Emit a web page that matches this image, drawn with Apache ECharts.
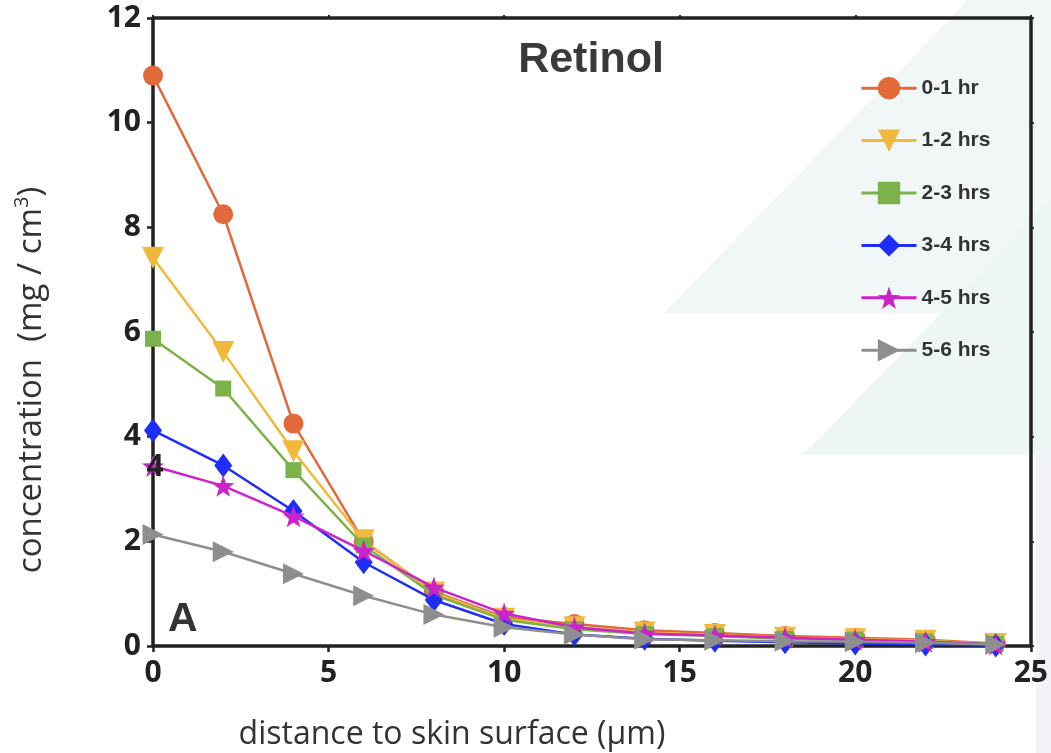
<!DOCTYPE html>
<html>
<head>
<meta charset="utf-8">
<script src="https://cdn.jsdelivr.net/npm/echarts@6/dist/echarts.min.js"></script>
<style>
html,body{margin:0;padding:0;background:#fff;}
#chart{width:1051px;height:753px;}
</style>
</head>
<body>
<div id="chart"></div>
<script>
// ---- data ----
const distances = [0, 2, 4, 6, 8, 10, 12, 14, 16, 18, 20, 22, 24];
const seriesNames = ['0-1 hr', '1-2 hrs', '2-3 hrs', '3-4 hrs', '4-5 hrs', '5-6 hrs'];
const hr0to1 = [10.9, 8.25, 4.25, 2.0, 1.04, 0.55, 0.42, 0.3, 0.25, 0.19, 0.16, 0.12, 0.05];
const hr1to2 = [7.42, 5.62, 3.72, 2.02, 1.02, 0.52, 0.36, 0.26, 0.21, 0.16, 0.13, 0.1, 0.04];
const hr2to3 = [5.87, 4.92, 3.36, 1.92, 0.98, 0.5, 0.32, 0.23, 0.19, 0.14, 0.12, 0.09, 0.04];
const hr3to4 = [4.12, 3.45, 2.58, 1.6, 0.88, 0.42, 0.22, 0.14, 0.1, 0.07, 0.05, 0.03, 0.01];
const hr4to5 = [3.44, 3.06, 2.48, 1.82, 1.12, 0.62, 0.36, 0.24, 0.2, 0.16, 0.12, 0.08, 0.03];
const hr5to6 = [2.13, 1.8, 1.38, 0.96, 0.6, 0.36, 0.22, 0.13, 0.11, 0.09, 0.08, 0.06, 0.03];
const xTicks = [0, 5, 10, 15, 20, 25];
const yTicks = [0, 2, 4, 6, 8, 10, 12];

const allValues = [hr0to1, hr1to2, hr2to3, hr3to4, hr4to5, hr5to6];
const colors = ['#E2693A', '#F0B93B', '#7BB24A', '#1F2EF6', '#CC22CC', '#8E8E8E'];
const starPath = 'path://M0,-10L2.35,-3.24L9.51,-3.09L3.8,1.24L5.88,8.09L0,4L-5.88,8.09L-3.8,1.24L-9.51,-3.09L-2.35,-3.24Z';
const symbols = [
  {symbol: 'circle', size: 20, rotate: 0},
  {symbol: 'triangle', size: 22, rotate: 180},
  {symbol: 'rect', size: 16, rotate: 0},
  {symbol: 'diamond', size: [18, 24], rotate: 0},
  {symbol: starPath, size: 22, rotate: 0},
  {symbol: 'triangle', size: 21, rotate: -90}
];

const chart = echarts.init(document.getElementById('chart'), null, {renderer: 'canvas'});

const tickFont = {fontFamily: 'Open Sans', fontWeight: 'bold', fontSize: 30, color: '#222'};
const axisLine = {show: true, onZero: false, lineStyle: {color: '#222', width: 3.5}};

const series = allValues.map((vals, i) => ({
  name: seriesNames[i],
  type: 'line',
  data: distances.map((d, j) => [d, vals[j]]),
  symbol: symbols[i].symbol,
  symbolSize: symbols[i].size,
  symbolRotate: symbols[i].rotate,
  lineStyle: {color: colors[i], width: 2.5},
  itemStyle: {color: colors[i]},
  emphasis: {disabled: true},
  animation: false,
  z: 2 + i
}));

const option = {
  backgroundColor: '#fff',
  animation: false,
  grid: {left: 153, right: 20, top: 18, bottom: 107, containLabel: false},
  legend: {
    orient: 'vertical',
    left: 855,
    top: 72,
    itemWidth: 55,
    itemHeight: 28,
    itemGap: 30,
    itemTextGap: 10,
    data: seriesNames,
    lineStyle: {width: 3},
    textStyle: {fontFamily: 'Liberation Sans', fontWeight: 'bold', fontSize: 21, color: '#333'}
  },
  xAxis: [{
    type: 'value', min: xTicks[0], max: xTicks[xTicks.length - 1], interval: 5,
    position: 'bottom',
    axisLine: axisLine,
    axisTick: {show: true, length: 6, lineStyle: {color: '#222', width: 2.5}},
    axisLabel: Object.assign({margin: 12}, tickFont),
    splitLine: {show: false}
  }, {
    type: 'value', min: xTicks[0], max: xTicks[xTicks.length - 1], interval: 5,
    position: 'top',
    axisLine: axisLine,
    axisTick: {show: true, length: 3, lineStyle: {color: '#222', width: 2}},
    axisLabel: {show: false},
    splitLine: {show: false}
  }],
  yAxis: [{
    type: 'value', min: yTicks[0], max: yTicks[yTicks.length - 1], interval: 2,
    position: 'left',
    axisLine: axisLine,
    axisTick: {show: true, length: 6, lineStyle: {color: '#222', width: 2.5}},
    axisLabel: Object.assign({margin: 12}, tickFont),
    splitLine: {show: false}
  }, {
    type: 'value', min: yTicks[0], max: yTicks[yTicks.length - 1], interval: 2,
    position: 'right',
    axisLine: axisLine,
    axisTick: {show: true, length: 3, lineStyle: {color: '#222', width: 2}},
    axisLabel: {show: false},
    splitLine: {show: false}
  }],
  graphic: [
    {type: 'polygon', z: -10, silent: true, shape: {points: [[664, 313], [1051, 313], [1051, 0], [968, 0]]}, style: {fill: '#f1f7f7'}},
    {type: 'polygon', z: -10, silent: true, shape: {points: [[803, 455], [1051, 455], [1051, 200]]}, style: {fill: '#edf5f5'}},
    {type: 'polygon', z: -10, silent: true, shape: {points: [[1036, 455], [1051, 455], [1051, 753], [1036, 753]]}, style: {fill: '#f2f3f6'}},
    {type: 'text', z: 10, silent: true, x: 591, y: 60,
      style: {text: 'Retinol', fontFamily: 'Liberation Sans', fontWeight: 'bold', fontSize: 43, fill: '#3a3a3a', align: 'center', verticalAlign: 'middle'}},
    {type: 'text', z: 10, silent: true, x: 168, y: 620,
      style: {text: 'A', fontFamily: 'Liberation Sans', fontWeight: 'bold', fontSize: 41, fill: '#333', align: 'left', verticalAlign: 'middle'}},
    {type: 'text', z: 10, silent: true, x: 155, y: 467,
      style: {text: '4', fontFamily: 'Open Sans', fontWeight: 'bold', fontSize: 30, fill: '#222', align: 'center', verticalAlign: 'middle'}},
    {type: 'text', z: 10, silent: true, x: 452, y: 735,
      style: {text: 'distance to skin surface (μm)', fontFamily: 'Open Sans', fontSize: 32, fill: '#333', align: 'center', verticalAlign: 'middle'}},
    {type: 'text', z: 10, silent: true, x: 32, y: 380, rotation: Math.PI / 2,
      style: {text: 'concentration  (mg / cm{sup|3})', fontFamily: 'Open Sans', fontSize: 33, fill: '#333', align: 'center', verticalAlign: 'middle',
        rich: {sup: {fontFamily: 'Open Sans', fontSize: 20, fill: '#333', verticalAlign: 'top', lineHeight: 40}}}}
  ],
  series: series
};
chart.setOption(option);
</script>
</body>
</html>
